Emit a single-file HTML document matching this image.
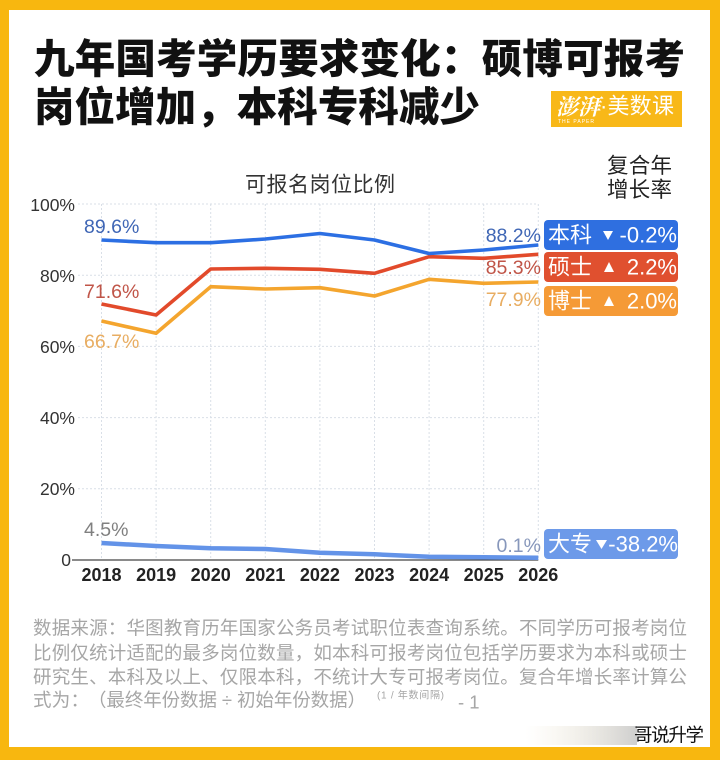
<!DOCTYPE html>
<html><head><meta charset="utf-8"><style>
html,body{margin:0;padding:0;background:#fff;}
svg{display:block;}
text{font-family:"Liberation Sans","Noto Sans CJK SC",sans-serif;}
</style></head><body>
<svg width="720" height="760" xmlns="http://www.w3.org/2000/svg">
<defs>
<linearGradient id="wm" x1="0" y1="0" x2="1" y2="0">
<stop offset="0" stop-color="#f3ead2" stop-opacity="0"/>
<stop offset="1" stop-color="#c9c9c9" stop-opacity="0.9"/>
</linearGradient>
</defs>
<rect width="720" height="760" fill="#f8b70f"/>
<rect x="9" y="10" width="701" height="737" fill="#ffffff"/>

<!-- Title -->
<text x="34" y="59" font-size="40.5" font-weight="900" fill="#111" dominant-baseline="central" textLength="651" lengthAdjust="spacing">九年国考学历要求变化：硕博可报考</text>
<text x="34" y="107" font-size="40.5" font-weight="900" fill="#111" dominant-baseline="central" textLength="446" lengthAdjust="spacing">岗位增加，本科专科减少</text>

<!-- Logo -->
<rect x="551" y="91" width="131" height="36" fill="#f8b818"/>
<text x="556" y="106" font-size="22" fill="#fff" dominant-baseline="central" font-style="italic" style="font-family:'Noto Serif CJK SC',serif" font-weight="700">澎湃</text>
<text x="600" y="106" font-size="22" fill="#fff" dominant-baseline="central" textLength="74" lengthAdjust="spacing">·美数课</text>
<text x="558" y="123" font-size="5" fill="#fff" letter-spacing="1">THE PAPER</text>

<!-- Chart title -->
<text x="245" y="185" font-size="21" fill="#333" dominant-baseline="central" textLength="150" lengthAdjust="spacing">可报名岗位比例</text>
<text x="607" y="166" font-size="21.5" fill="#222" dominant-baseline="central" textLength="65" lengthAdjust="spacing">复合年</text>
<text x="607" y="190" font-size="21.5" fill="#222" dominant-baseline="central" textLength="65" lengthAdjust="spacing">增长率</text>

<!-- Grid -->
<g stroke="#d9dfe7" stroke-width="1" stroke-dasharray="2,2">
<line x1="78" y1="204" x2="538" y2="204"/>
<line x1="78" y1="275.2" x2="538" y2="275.2"/>
<line x1="78" y1="346.4" x2="538" y2="346.4"/>
<line x1="78" y1="417.6" x2="538" y2="417.6"/>
<line x1="78" y1="488.8" x2="538" y2="488.8"/>
<line x1="101.5" y1="204" x2="101.5" y2="560"/>
<line x1="156.1" y1="204" x2="156.1" y2="560"/>
<line x1="210.7" y1="204" x2="210.7" y2="560"/>
<line x1="265.3" y1="204" x2="265.3" y2="560"/>
<line x1="319.9" y1="204" x2="319.9" y2="560"/>
<line x1="374.5" y1="204" x2="374.5" y2="560"/>
<line x1="429.1" y1="204" x2="429.1" y2="560"/>
<line x1="483.7" y1="204" x2="483.7" y2="560"/>
<line x1="538.3" y1="204" x2="538.3" y2="560"/>
</g>

<!-- Y labels -->
<g font-size="17.5" fill="#333" text-anchor="end" dominant-baseline="central">
<text x="75" y="205">100%</text>
<text x="75" y="276">80%</text>
<text x="75" y="347">60%</text>
<text x="75" y="418">40%</text>
<text x="75" y="489">20%</text>
<text x="71" y="560">0</text>
</g>
<line x1="72" y1="560" x2="538.3" y2="560" stroke="#444" stroke-width="1.3"/>

<!-- X labels -->
<g font-size="18" font-weight="700" fill="#222" text-anchor="middle" dominant-baseline="central">
<text x="101.5" y="575">2018</text>
<text x="156.1" y="575">2019</text>
<text x="210.7" y="575">2020</text>
<text x="265.3" y="575">2021</text>
<text x="319.9" y="575">2022</text>
<text x="374.5" y="575">2023</text>
<text x="429.1" y="575">2024</text>
<text x="483.7" y="575">2025</text>
<text x="538.3" y="575">2026</text>
</g>

<!-- Series -->
<g fill="none" stroke-linejoin="round" stroke-width="3.6">
<polyline stroke="#f4a52e" points="101.5,321 156.1,333.3 210.7,286.7 265.3,289 319.9,287.7 374.5,296 429.1,279.3 483.7,283.3 538.3,282"/>
<polyline stroke="#e24a2b" points="101.5,304 156.1,315 210.7,269 265.3,268.3 319.9,269.3 374.5,273.3 429.1,256.7 483.7,258.3 538.3,254.3"/>
<polyline stroke="#2c6fe3" points="101.5,240 156.1,242.7 210.7,242.7 265.3,239 319.9,233.5 374.5,240 429.1,253.5 483.7,250 538.3,245"/>
<polyline stroke="#6393e8" stroke-width="4.5" points="101.5,543 156.1,546 210.7,548.3 265.3,549 319.9,552.7 374.5,554.3 429.1,556.7 483.7,557.3 538.3,557.7"/>
</g>

<!-- Value labels -->
<g font-size="19.5" dominant-baseline="central">
<text x="84" y="227" fill="#3f66b5">89.6%</text>
<text x="84" y="292" fill="#c05548">71.6%</text>
<text x="84" y="342" fill="#e8ad62">66.7%</text>
<text x="84" y="530" fill="#808080">4.5%</text>
<text x="541" y="236" fill="#3f66b5" text-anchor="end">88.2%</text>
<text x="541" y="268" fill="#c05548" text-anchor="end">85.3%</text>
<text x="541" y="300" fill="#e8ad62" text-anchor="end">77.9%</text>
<text x="541" y="546" fill="#8797bb" text-anchor="end">0.1%</text>
</g>

<!-- Legend boxes -->
<rect x="544" y="220" width="134" height="30" rx="4" fill="#2f6fe0"/>
<rect x="544" y="252" width="134" height="30" rx="4" fill="#e0502f"/>
<rect x="544" y="286" width="134" height="30" rx="4" fill="#f59a36"/>
<rect x="544" y="529" width="134" height="30" rx="4" fill="#6d9ae9"/>
<g font-size="22" fill="#fff" dominant-baseline="central">
<text x="548" y="235" textLength="44" lengthAdjust="spacing">本科</text>
<text x="677" y="235" text-anchor="end">-0.2%</text>
<text x="548" y="267" textLength="44" lengthAdjust="spacing">硕士</text>
<text x="677" y="267" text-anchor="end">2.2%</text>
<text x="548" y="301" textLength="44" lengthAdjust="spacing">博士</text>
<text x="677" y="301" text-anchor="end">2.0%</text>
<text x="548" y="544" textLength="44" lengthAdjust="spacing">大专</text>
<text x="678" y="544" text-anchor="end">-38.2%</text>
</g>
<g fill="#fff">
<polygon points="603,231 613,231 608,240"/>
<polygon points="604,272 614,272 609,262"/>
<polygon points="604,306 614,306 609,296"/>
<polygon points="596,540 607,540 601.5,549"/>
</g>

<!-- Footnote -->
<g font-size="18.5" fill="#a6a6a6" dominant-baseline="central">
<text x="33" y="628" textLength="654" lengthAdjust="spacing">数据来源：华图教育历年国家公务员考试职位表查询系统。不同学历可报考岗位</text>
<text x="33" y="653" textLength="654" lengthAdjust="spacing">比例仅统计适配的最多岗位数量，如本科可报考岗位包括学历要求为本科或硕士</text>
<text x="33" y="677" textLength="654" lengthAdjust="spacing">研究生、本科及以上、仅限本科，不统计大专可报考岗位。复合年增长率计算公</text>
<text x="33" y="700" textLength="56" lengthAdjust="spacing">式为：</text>
<text x="88" y="700" textLength="278" lengthAdjust="spacing">（最终年份数据 ÷ 初始年份数据）</text>
<text x="377" y="696" font-size="10" textLength="67" lengthAdjust="spacing">(1 / 年数间隔)</text>
<text x="458" y="702">- 1</text>
</g>

<!-- Watermark -->
<rect x="525" y="726" width="112" height="19" fill="url(#wm)"/>
<text x="634" y="735" font-size="18.5" fill="#111" dominant-baseline="central" textLength="70" lengthAdjust="spacing">哥说升学</text>
</svg>
</body></html>
